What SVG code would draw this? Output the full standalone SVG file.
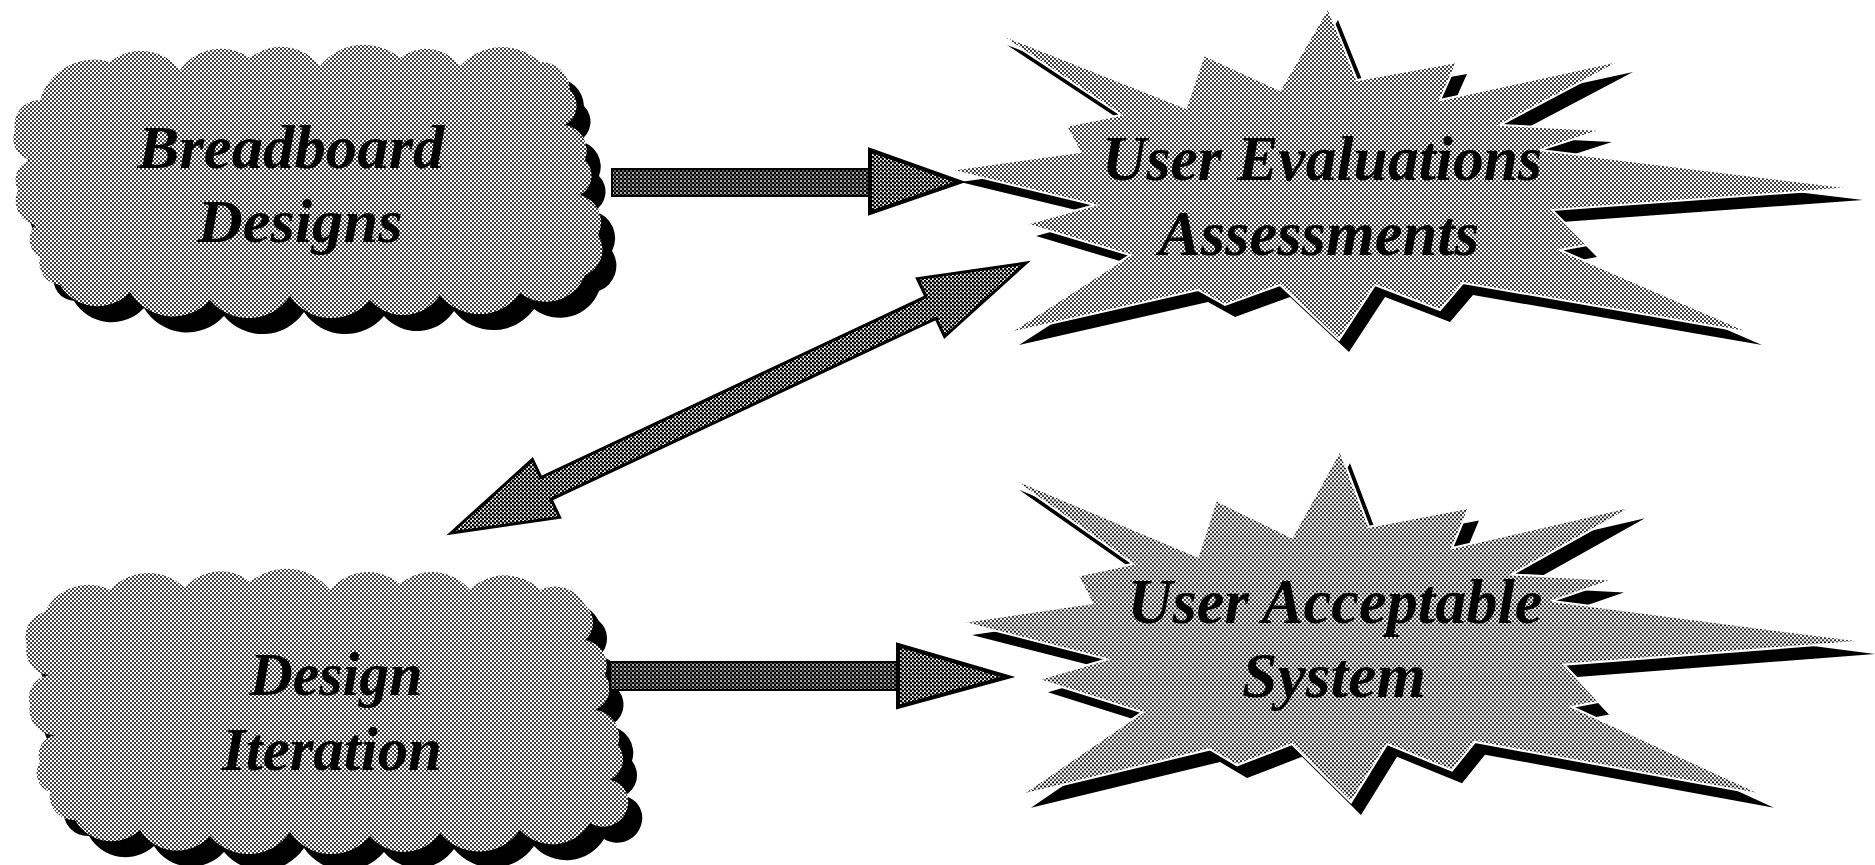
<svg xmlns="http://www.w3.org/2000/svg" width="1875" height="865" viewBox="0 0 1875 865">
<defs>
<pattern id="ht" width="4" height="4" patternUnits="userSpaceOnUse">
<rect width="4" height="4" fill="#fff"/>
<circle cx="1" cy="1" r="1" fill="#000"/>
<circle cx="3" cy="3" r="1" fill="#000"/>
</pattern>
<pattern id="htm" width="4" height="4" patternUnits="userSpaceOnUse">
<rect width="4" height="4" fill="#fff"/>
<circle cx="1" cy="1" r="1.4" fill="#000"/>
<circle cx="3" cy="3" r="1.4" fill="#000"/>
</pattern>
<pattern id="htd" width="4" height="4" patternUnits="userSpaceOnUse">
<rect width="4" height="4" fill="#000"/>
<circle cx="1" cy="1" r="0.9" fill="#fff"/>
<circle cx="3" cy="3" r="0.7" fill="#fff"/>
</pattern>
<path id="cloud1" d="M40,100 A56,56 0 0 1 110,62 A49,49 0 0 1 180,70 A50,50 0 0 1 250,58 A49,49 0 0 1 320,66 A56,56 0 0 1 400,58 A42,42 0 0 1 460,66 A56,56 0 0 1 540,62 A29,29 0 0 1 570,90 A22,22 0 0 1 565,125 A26,26 0 0 1 585,160 A22,22 0 0 1 580,195 A28,28 0 0 1 598,235 A27,27 0 0 1 585,275 A42,42 0 0 1 520,293 A50,50 0 0 1 440,295 A44,44 0 0 1 370,300 A50,50 0 0 1 290,296 A50,50 0 0 1 210,300 A50,50 0 0 1 130,292 A44,44 0 0 1 60,285 A22,22 0 0 1 40,258 A22,22 0 0 1 35,225 A25,25 0 0 1 18,190 A21,21 0 0 1 30,160 A22,22 0 0 1 15,130 A25,25 0 0 1 40,100 Z"/>
<path id="cloud2" d="M45,612 A48,48 0 0 1 110,590 A52,52 0 0 1 185,588 A46,46 0 0 1 250,582 A56,56 0 0 1 330,590 A49,49 0 0 1 400,584 A49,49 0 0 1 470,590 A49,49 0 0 1 540,590 A34,34 0 0 1 585,605 A23,23 0 0 1 585,640 A26,26 0 0 1 605,675 A23,23 0 0 1 595,710 A27,27 0 0 1 618,745 A23,23 0 0 1 610,780 A22,22 0 0 1 628,805 A25,25 0 0 1 590,823 A44,44 0 0 1 520,830 A50,50 0 0 1 440,833 A44,44 0 0 1 370,836 A50,50 0 0 1 290,832 A50,50 0 0 1 210,836 A44,44 0 0 1 140,830 A42,42 0 0 1 75,820 A24,24 0 0 1 50,792 A20,20 0 0 1 40,762 A20,20 0 0 1 55,735 A25,25 0 0 1 30,705 A23,23 0 0 1 50,675 A24,24 0 0 1 27,645 A25,25 0 0 1 45,612 Z"/>
<polygon id="burst" points="997,33 1186,108 1204,55 1280,90 1328,8 1357,80 1457,62 1440,100 1623,60 1500,125 1602,130 1540,150 1853,188 1552,210 1587,245 1560,250 1752,333 1463,283 1440,310 1375,285 1339,340 1280,285 1225,305 1198,290 1009,333 1130,255 1026,224 1095,205 950,170 1080,152 1066,126 1121,115"/>
</defs>
<style>
.lbl{font-family:"Liberation Serif","Times New Roman",serif;font-weight:bold;font-style:italic;font-size:62px;fill:#000;text-anchor:middle}
.big{font-size:64px}
.shadow{fill:#000}
.cloud{fill:url(#ht)}
.star{fill:url(#ht);stroke:#fff;stroke-width:2}
.body{fill:url(#htd);stroke:#000;stroke-width:2}
.head{fill:url(#htm);stroke:#000;stroke-width:4}
.dbl{fill:url(#htm);stroke:#000;stroke-width:3;stroke-linejoin:miter}
</style>
<rect width="1875" height="865" fill="#fff"/>

<g id="node-breadboard-designs">
<use href="#cloud1" class="shadow" transform="translate(14,16)"/>
<use href="#cloud1" class="cloud"/>
<text class="lbl" x="291" y="168" textLength="307" lengthAdjust="spacingAndGlyphs">Breadboard</text>
<text class="lbl" x="300" y="242" textLength="205" lengthAdjust="spacingAndGlyphs">Designs</text>
</g>

<g id="node-design-iteration">
<use href="#cloud2" class="shadow" transform="translate(14,16)"/>
<use href="#cloud2" class="cloud"/>
<text class="lbl" x="336" y="695" textLength="173" lengthAdjust="spacingAndGlyphs">Design</text>
<text class="lbl" x="332" y="770" textLength="220" lengthAdjust="spacingAndGlyphs">Iteration</text>
</g>

<g id="node-user-evaluations">
<use href="#burst" class="shadow" transform="translate(10,12)"/>
<use href="#burst" class="star"/>
<text class="lbl big" x="1322" y="180" textLength="440" lengthAdjust="spacingAndGlyphs">User Evaluations</text>
<text class="lbl big" x="1319" y="255" textLength="320" lengthAdjust="spacingAndGlyphs">Assessments</text>
</g>

<g id="node-user-acceptable">
<g transform="matrix(1,0,0,1.06,12,442)">
<use href="#burst" class="shadow" transform="translate(10,12)"/>
<use href="#burst" class="star"/>
</g>
<text class="lbl big" x="1335" y="623" textLength="415" lengthAdjust="spacingAndGlyphs">User Acceptable</text>
<text class="lbl big" x="1334" y="697" textLength="184" lengthAdjust="spacingAndGlyphs">System</text>
</g>

<g id="connectors">
<g id="arrow-breadboard-to-evaluations">
<rect class="body" x="612" y="169" width="260" height="27"/>
<polygon class="head" points="870,150 960,182 870,213"/>
</g>
<g id="arrow-iteration-to-acceptable">
<rect class="body" x="610" y="662" width="290" height="28"/>
<polygon class="head" points="898,645 1008,677 898,707"/>
</g>
<g id="arrow-evaluations-iteration">
<polygon class="dbl" points="451,533 532.4,459.4 540.9,477.5 925.9,296.7 917.4,278.6 1026,263 944.6,336.6 936.1,318.5 551.1,499.3 559.6,517.4"/>
</g>
</g>
</svg>
